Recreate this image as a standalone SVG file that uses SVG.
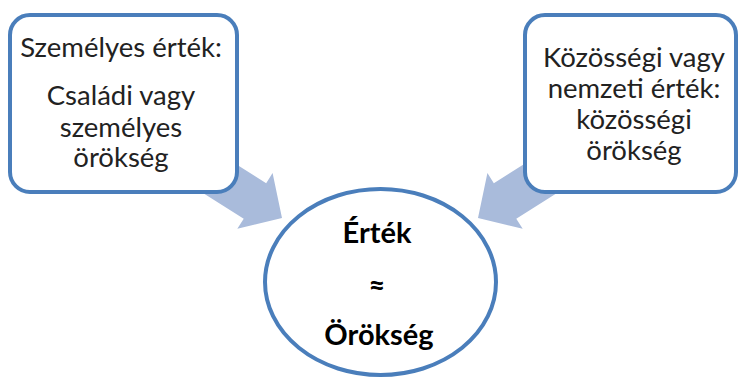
<svg xmlns="http://www.w3.org/2000/svg" width="742" height="380" viewBox="0 0 742 380">
<style>
.box{fill:#ffffff;stroke:#4A7EBB;stroke-width:4}
.arr{fill:#A9BBDB}
.t{font-family:Lato,"Open Sans","DejaVu Sans",sans-serif;font-size:27.5px;fill:#222222;text-anchor:middle}
.b{font-family:Lato,"Open Sans","DejaVu Sans",sans-serif;font-size:29px;font-weight:bold;fill:#000000;text-anchor:middle}
</style>
<g id="connectors">
<polygon class="arr" transform="translate(282,218) rotate(32.3)" points="0,0 -32,-33 -32,-21 -120,-21 -120,21 -32,21 -32,33"/>
<polygon class="arr" transform="translate(478,218) rotate(147.7)" points="0,0 -32,-33 -32,-21 -120,-21 -120,21 -32,21 -32,33"/>
</g>
<g id="node-personal">
<rect class="box" x="10" y="15" width="227" height="177" rx="20"/>
<text class="t" x="121" y="57">Személyes érték:</text>
<text class="t" x="121" y="105">Családi vagy</text>
<text class="t" x="121" y="137">személyes</text>
<text class="t" x="121" y="167">örökség</text>
</g>
<g id="node-community">
<rect class="box" x="525" y="15" width="211" height="177" rx="20"/>
<text class="t" x="634" y="67">Közösségi vagy</text>
<text class="t" x="634" y="98">nemzeti érték:</text>
<text class="t" x="634" y="129">közösségi</text>
<text class="t" x="634" y="160">örökség</text>
</g>
<g id="node-value">
<ellipse class="box" cx="380.5" cy="282" rx="115.5" ry="93"/>
<text class="b" x="377" y="243">Érték</text>
<text class="b" x="377" y="296">≈</text>
<text class="b" x="379" y="345">Örökség</text>
</g>
</svg>
